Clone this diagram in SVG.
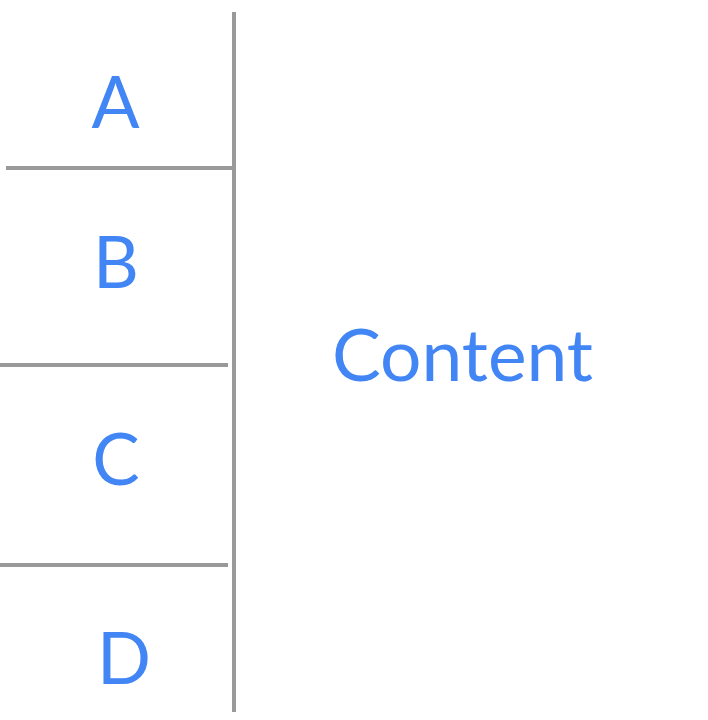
<svg xmlns="http://www.w3.org/2000/svg" width="708" height="720" viewBox="0 0 708 720">
<style>
.lbl{font-family:Lato,"Open Sans","Liberation Sans",sans-serif;font-size:71px;fill:#4285F4;text-anchor:middle}
.ln{stroke:#999999;stroke-width:4;fill:none}
</style>
<rect width="708" height="720" fill="#ffffff"/>
<g id="connectors">
<line class="ln" x1="234" y1="12" x2="234" y2="712"/>
<line class="ln" x1="6" y1="168" x2="234" y2="168"/>
<line class="ln" x1="0" y1="365" x2="228" y2="365"/>
<line class="ln" x1="0" y1="565" x2="228" y2="565"/>
</g>
<g id="node-a"><text class="lbl" x="115.5" y="128">A</text></g>
<g id="node-b"><text class="lbl" x="116" y="288">B</text></g>
<g id="node-c"><text class="lbl" x="116" y="485">C</text></g>
<g id="node-d"><text class="lbl" x="124" y="684">D</text></g>
<g id="node-content"><text class="lbl" x="462.5" y="381" textLength="261" lengthAdjust="spacingAndGlyphs">Content</text></g>
</svg>
